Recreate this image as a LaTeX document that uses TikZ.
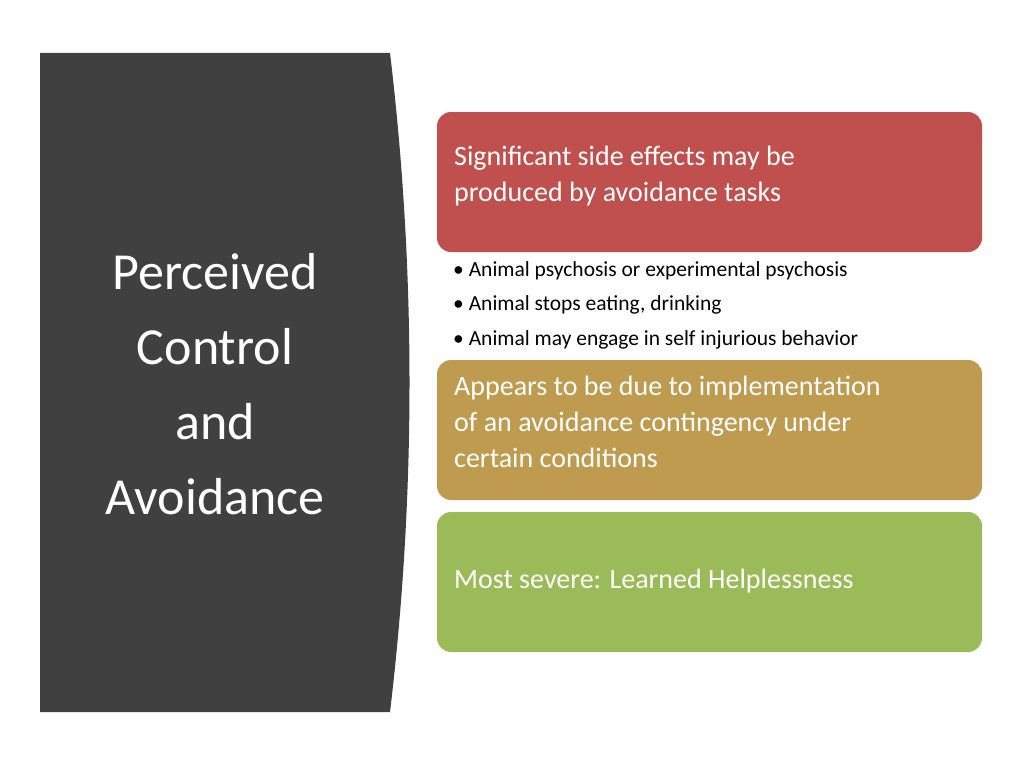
\documentclass[tikz,border=0pt]{standalone}
\usepackage{fontspec}
\setmainfont{Carlito}
\definecolor{dark}{HTML}{404040}
\definecolor{redb}{HTML}{C0504D}
\definecolor{goldb}{HTML}{BF9B50}
\definecolor{greenb}{HTML}{9BBB59}
\begin{document}
\begin{tikzpicture}[x=1pt,y=-1pt,
  box/.style={rounded corners=14pt},
  boxtext/.style={anchor=north west,text=white,font=\fontsize{28}{36}\selectfont,align=left,inner sep=0pt},
  bul/.style={anchor=west,font=\fontsize{21.5}{26}\selectfont,inner sep=0pt}]
\useasboundingbox (0,0) rectangle (1024,768);
\fill[white] (0,0) rectangle (1024,768);
\fill[dark] (40,53) -- (390,53) .. controls (416,270) and (416,495) .. (390,712) -- (40,712) -- cycle;
\node[text=white,font=\fontsize{52}{75}\selectfont,align=center] (title) at (215,384) {Perceived\\Control\\and\\Avoidance};
\fill[redb,box] (437,112) rectangle (982,252);
\node[boxtext] (t1) at (454,146) {Significant side effects may be\\produced by avoidance tasks};
\node[bul] (b1) at (453,271) {• Animal psychosis or experimental psychosis};
\node[bul] (b2) at (453,305) {• Animal stops eating, drinking};
\node[bul] (b3) at (453,340) {• Animal may engage in self injurious behavior};
\fill[goldb,box] (437,360) rectangle (982,500);
\node[boxtext] (t2) at (454,376) {Appears to be due to implementation\\of an avoidance contingency under\\certain conditions};
\fill[greenb,box] (437,512) rectangle (982,652);
\node[boxtext,anchor=west] (t3) at (454,581) {Most severe: Learned Helplessness};
\end{tikzpicture}
\end{document}
